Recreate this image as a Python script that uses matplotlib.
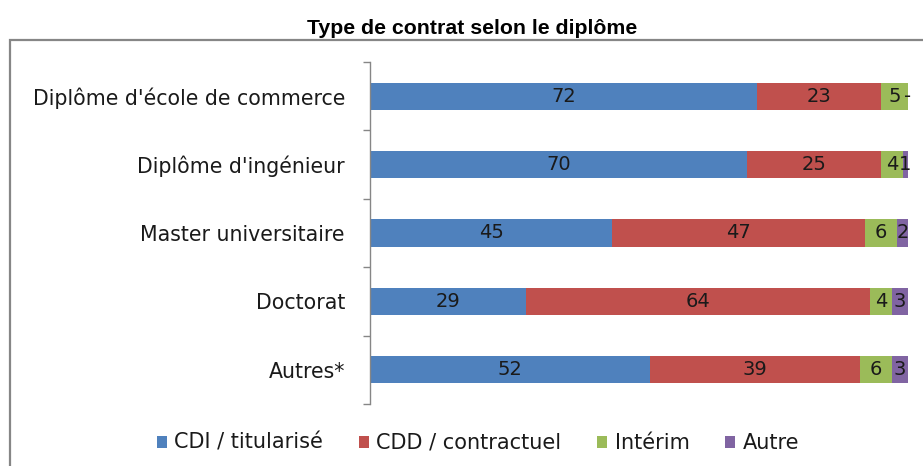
import matplotlib
matplotlib.use("Agg")
import matplotlib.pyplot as plt
from matplotlib.patches import Rectangle
import numpy as np

categories = ["Diplôme d'école de commerce", "Diplôme d'ingénieur", "Master universitaire", "Doctorat", "Autres*"]
series_names = ["CDI / titularisé", "CDD / contractuel", "Intérim", "Autre"]
cdi = [72, 70, 45, 29, 52]
cdd = [23, 25, 47, 64, 39]
interim = [5, 4, 6, 4, 6]
autre = [0, 1, 2, 3, 3]
colors = ["#4F81BD", "#C0504D", "#9BBB59", "#8064A2"]
title = "Type de contrat selon le diplôme"

plt.rcParams['font.family'] = ["DejaVu Sans"]

fig = plt.figure(figsize=(9.23, 4.66), dpi=100)
W, H = 923, 466
ax = fig.add_axes([370 / W, 1 - 404 / H, (908 - 370) / W, (404 - 62) / H])

# outer frame
fig.patches.append(Rectangle((10 / W, -0.05), 1.2, 1 - 40 / H + 0.05, transform=fig.transFigure,
                             fill=False, edgecolor="#868686", linewidth=1.6, clip_on=False))

y = np.arange(len(categories))
left = np.zeros(len(categories))
for vals, name, col in zip([cdi, cdd, interim, autre], series_names, colors):
    vals = np.array(vals, dtype=float)
    ax.barh(y, vals, left=left, height=0.4, color=col, label=name)
    for yi, l, v in zip(y, left, vals):
        txt = "-" if v == 0 else f"{int(v)}"
        ax.text(l + v / 2, yi, txt, ha="center", va="center", fontsize=14, color="#1a1a1a")
    left += vals

ax.set_xlim(0, 100)
ax.set_ylim(4.5, -0.5)
ax.set_yticks(y)
ax.set_yticklabels(categories, fontsize=14.8, color="#1a1a1a")
ax.tick_params(axis="y", which="major", length=0, pad=18)
ax.set_yticks(np.arange(-0.5, 5, 1), minor=True)
ax.tick_params(axis="y", which="minor", length=5, color="#868686", width=1)
ax.set_xticks([])
for s in ["top", "right", "bottom"]:
    ax.spines[s].set_visible(False)
ax.spines["left"].set_color("#868686")
ax.spines["left"].set_linewidth(1)

fig.text(472 / W, 1 - 28 / H, title, ha="center", va="center", fontsize=15.3,
         fontweight="bold", family=["Liberation Sans", "DejaVu Sans"])

handles, labels = ax.get_legend_handles_labels()
leg = fig.legend(handles, labels, loc="center", bbox_to_anchor=(478 / W, 1 - 443 / H), ncol=4,
                 frameon=False, fontsize=15, handlelength=0.5, handleheight=0.5,
                 handletextpad=0.35, columnspacing=1.7)
for t in leg.get_texts():
    t.set_color("#1a1a1a")

fig.savefig("out.png", dpi=100)
